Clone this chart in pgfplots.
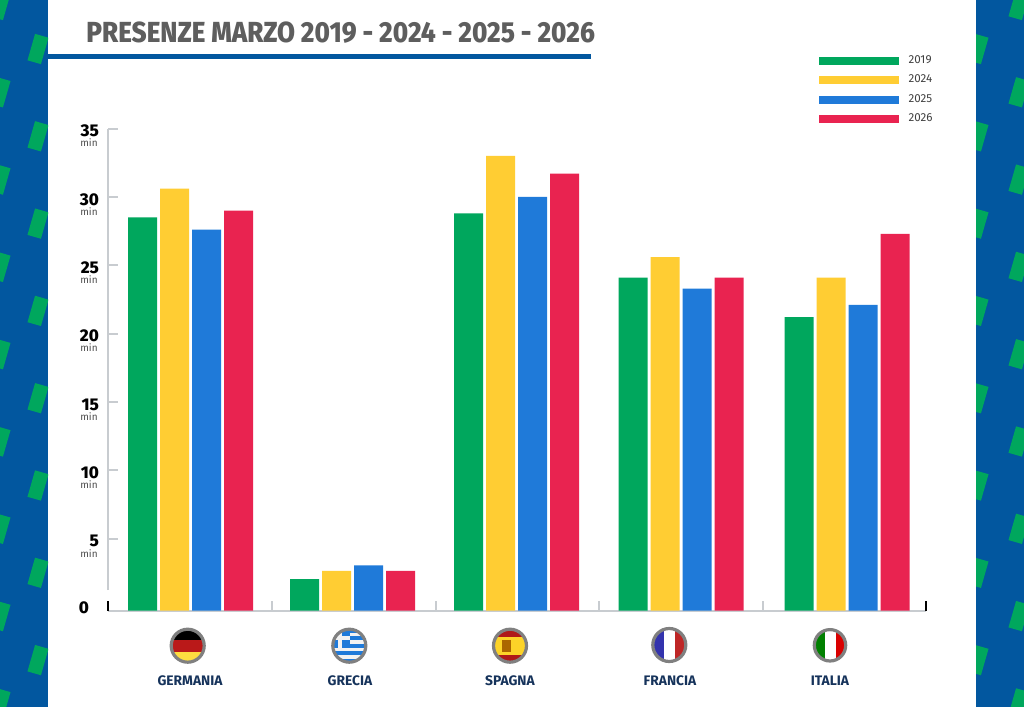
\documentclass[border=0pt]{standalone}
\usepackage{fontspec}
\setmainfont{Fira Sans}
\newfontfamily\heavy{Fira Sans ExtraBold}
\usepackage{pgfplots}
\pgfplotsset{compat=1.18}
\definecolor{c19}{HTML}{00A75D}
\definecolor{c24}{HTML}{FFCD33}
\definecolor{c25}{HTML}{1F7AD9}
\definecolor{c26}{HTML}{E92350}
\definecolor{panel}{HTML}{02579F}
\definecolor{axgray}{HTML}{C8CCD0}
\definecolor{navy}{HTML}{16335B}
\definecolor{titlegray}{HTML}{5E5E5E}
\definecolor{ring}{HTML}{808080}
% values in millions, x = bar group centre in pixels of the original
\pgfplotstableread{
x y19 y24 y25 y26
190.5 28.5 30.6 27.6 29.0
352.5 2.05 2.65 3.05 2.65
516.5 28.8 33.0 30.0 31.7
681.0 24.1 25.6 23.3 24.1
847.0 21.2 24.1 22.1 27.3
}\presenze
\newcommand{\tile}[2]{\fill[c19,shift={(#1,#2)},rotate=-16] (-7,-13.75) rectangle (7,13.75);}
\newcommand{\ringflag}[3]{\draw[ring,line width=1.6pt] (#1,#2) circle (#3);}
\begin{document}
\begin{tikzpicture}[x=0.5pt,y=-0.5pt]
\useasboundingbox (0,0) rectangle (1024,707);
\fill[white] (0,0) rectangle (1024,707);
\fill[panel] (0,0) rectangle (48,707);
\fill[panel] (976,0) rectangle (1024,707);
\begin{scope}
\clip (0,0) rectangle (48,707);
\foreach \i in {0,...,8}{
  \tile{38}{49+87.3*\i}
  \tile{0}{5+87.3*\i}
}
\end{scope}
\begin{scope}
\clip (976,0) rectangle (1024,707);
\foreach \i in {0,...,8}{
  \tile{978}{49+87.3*\i}
  \tile{1019}{5+87.3*\i}
}
\end{scope}
\fill[panel] (48,53.5) rectangle (591,59);
\node[anchor=west,inner sep=0,text=titlegray,font=\fontsize{14.5}{15}\selectfont\heavy] at (86,33) {\scalebox{0.898}[1]{PRESENZE MARZO 2019 - 2024 - 2025 - 2026}};
% flags
\begin{scope}
\clip (187.7,645.7) circle (16);
\fill[black] (170,628) rectangle (206,640);
\fill[red!70!black!90!white] (170,640) rectangle (206,652);
\fill[yellow!70!orange!75!white] (170,652) rectangle (206,664);
\end{scope}
\ringflag{187.7}{645.7}{16.5}
\begin{scope}
\clip (349.3,645.7) circle (16);
\fill[c25] (331,628) rectangle (368,664);
\foreach \yy in {632.5,640,647.5,655}{\fill[white!90!gray] (331,\yy) rectangle (368,\yy+3.7);}
\fill[c25] (331,628) rectangle (350,647.5);
\fill[white!90!gray] (338,628) rectangle (342,647.5);
\fill[white!90!gray] (331,636) rectangle (350,640);
\end{scope}
\ringflag{349.3}{645.7}{16.5}
\begin{scope}
\clip (510,645.7) circle (16);
\fill[red!65!black!90!white] (492,628) rectangle (528,664);
\fill[yellow!65!orange!85!white] (492,636.5) rectangle (528,655);
\fill[red!45!black!60!yellow] (502,640) rectangle (511,652);
\end{scope}
\ringflag{510}{645.7}{16.5}
\begin{scope}
\clip (669.3,645) circle (16);
\fill[blue!60!black!80!white] (651,627) rectangle (664,663);
\fill[white] (664,627) rectangle (675,663);
\fill[red!70!black!85!white] (675,627) rectangle (688,663);
\end{scope}
\ringflag{669.3}{645}{16.5}
\begin{scope}
\clip (830,645.3) circle (15.5);
\fill[green!50!black] (812,627) rectangle (825,663);
\fill[white] (825,627) rectangle (836,663);
\fill[red!85!black] (836,627) rectangle (848,663);
\end{scope}
\ringflag{830}{645.3}{15.7}
\begin{axis}[
  at={(54pt,-305.35pt)},anchor=south west,scale only axis,
  width=409pt,height=241.1pt,
  xmin=108,xmax=926,ymin=-0.26,ymax=35,
  y coord trafo/.code={\pgfmathparse{#1+0.26}},
  y coord inv trafo/.code={\pgfmathparse{#1-0.26}},
  axis x line*=bottom,axis y line*=left,
  x axis line style={axgray,line width=1.2pt,-},
  y axis line style={draw=none},
  clip=false,
  ybar,bar width=14.5pt,
  ytick={5,10,...,35},
  yticklabels={5,10,15,20,25,30,35},
  y tick style={axgray,line width=1pt},
  tick align=inside,
  major tick length=5pt,
  yticklabel style={font=\fontsize{8.5}{8}\selectfont\heavy,text=black,align=center,anchor=east,xshift=-1pt,yshift=-1.2pt},
  extra y ticks={0},
  extra y tick labels={0},
  extra y tick style={tick style={draw=none},yticklabel style={xshift=-5pt,yshift=0.9pt}},
  xtick={190,350,510,670,830},
  xticklabels={GERMANIA,GRECIA,SPAGNA,FRANCIA,ITALIA},
  x tick style={draw=none},
  xticklabel style={font=\fontsize{6.9}{7}\selectfont\bfseries,text=navy,text height=5pt,text depth=0pt,yshift=-29pt},
  legend style={at={(rel axis cs:1.0134,1.16)},anchor=north east,draw=none,fill=none,
    inner sep=0pt,row sep=0.2pt,column sep=3pt,font=\fontsize{5.8}{6}\selectfont,text=black!75},
  legend cell align=left,
  legend image code/.code={\fill[#1] (0pt,-2pt) rectangle (40pt,2pt);},
]
\addplot[fill=c19,draw=none,bar shift=-24pt] table[x=x,y=y19]{\presenze};
\addplot[fill=c24,draw=none,bar shift=-8pt] table[x=x,y=y24]{\presenze};
\addplot[fill=c25,draw=none,bar shift=8pt] table[x=x,y=y25]{\presenze};
\addplot[fill=c26,draw=none,bar shift=24pt] table[x=x,y=y26]{\presenze};
\legend{2019,2024,2025,2026}
\draw[axgray,line width=1.2pt] (axis cs:108,1.25)--(axis cs:108,35);
\pgfplotsinvokeforeach{272,436,599,763}{
  \draw[axgray,line width=1pt] (axis cs:#1,-0.26)--(axis cs:#1,0.47);
}
\draw[black,line width=1pt] (axis cs:108,-0.26)--(axis cs:108,0.47);
\draw[black,line width=1pt] (axis cs:926,-0.26)--(axis cs:926,0.47);
\pgfplotsinvokeforeach{5,10,15,20,25,30,35}{
  \node[font=\fontsize{5}{6}\selectfont,text=black!70,yshift=-7.2pt] at (axis cs:89,#1) {min};
}
\end{axis}
\end{tikzpicture}
\end{document}
